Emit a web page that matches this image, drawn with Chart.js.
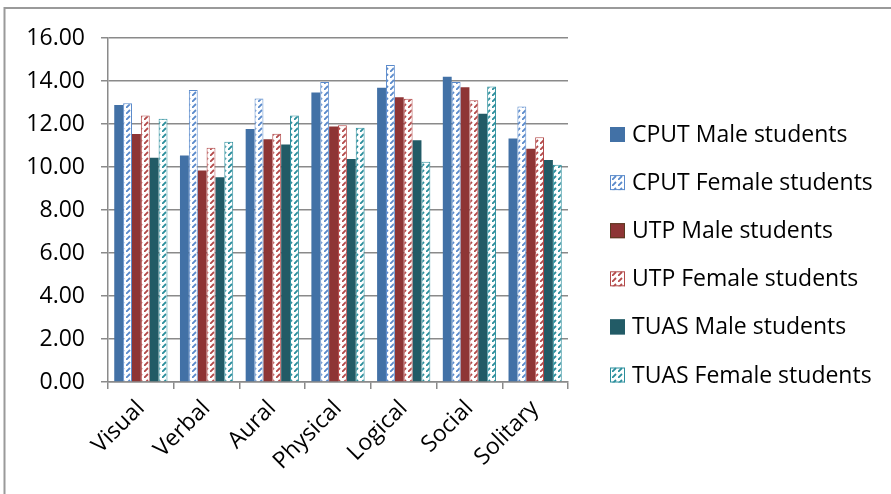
<!DOCTYPE html>
<html>
<head>
<meta charset="utf-8">
<script src="https://cdn.jsdelivr.net/npm/chart.js@4.4.1/dist/chart.umd.min.js"></script>
<style>
  html, body { margin: 0; padding: 0; background: #ffffff; }
  #wrap { width: 891px; height: 494px; position: relative; }
</style>
</head>
<body>
<div id="wrap"><canvas id="c" width="891" height="494"></canvas></div>
<script>
// Learning style scores by university and gender
const categories = ['Visual', 'Verbal', 'Aural', 'Physical', 'Logical', 'Social', 'Solitary'];
const seriesNames = ['CPUT Male students', 'CPUT Female students', 'UTP Male students',
                     'UTP Female students', 'TUAS Male students', 'TUAS Female students'];
const cputMale   = [12.88, 10.53, 11.77, 13.46, 13.69, 14.20, 11.33];
const cputFemale = [12.96, 13.58, 13.19, 13.95, 14.74, 13.95, 12.81];
const utpMale    = [11.53,  9.84, 11.29, 11.88, 13.24, 13.71, 10.85];
const utpFemale  = [12.40, 10.90, 11.55, 11.94, 13.18, 13.10, 11.38];
const tuasMale   = [10.43,  9.52, 11.05, 10.37, 11.24, 12.48, 10.33];
const tuasFemale = [12.25, 11.18, 12.40, 11.83, 10.25, 13.75, 10.11];
const yTicks = [0, 2, 4, 6, 8, 10, 12, 14, 16];

const FONT = '"Open Sans", Lato, sans-serif';

// Dashed upward-diagonal hatch on white
function hatch(color) {
  const t = document.createElement('canvas');
  t.width = 6; t.height = 6;
  const g = t.getContext('2d');
  g.fillStyle = '#ffffff';
  g.fillRect(0, 0, 6, 6);
  g.strokeStyle = color;
  g.lineWidth = 1.8;
  g.beginPath();
  g.moveTo(0, 6);
  g.lineTo(4, 2);
  g.stroke();
  return document.getElementById('c').getContext('2d').createPattern(t, 'repeat');
}

const solid = { cm: '#4271a6', um: '#8e3535', tm: '#225b66' };
const line  = { cf: '#5a8acb', uf: '#b34a4a', tf: '#2b8e9c' };

const datasets = [
  { label: seriesNames[0], data: cputMale,   backgroundColor: solid.cm, borderColor: solid.cm, borderWidth: 0 },
  { label: seriesNames[1], data: cputFemale, backgroundColor: hatch(line.cf), borderColor: line.cf, borderWidth: 1 },
  { label: seriesNames[2], data: utpMale,    backgroundColor: solid.um, borderColor: '#5a3a20', borderWidth: 0 },
  { label: seriesNames[3], data: utpFemale,  backgroundColor: hatch(line.uf), borderColor: line.uf, borderWidth: 1 },
  { label: seriesNames[4], data: tuasMale,   backgroundColor: solid.tm, borderColor: solid.tm, borderWidth: 0 },
  { label: seriesNames[5], data: tuasFemale, backgroundColor: hatch(line.tf), borderColor: line.tf, borderWidth: 1 }
];

// Outer chart frame (left and top edges)
const framePlugin = {
  id: 'frame',
  beforeDraw(chart) {
    const ctx = chart.ctx;
    ctx.save();
    ctx.strokeStyle = '#9a9a9a';
    ctx.lineWidth = 2;
    ctx.beginPath();
    ctx.moveTo(4.5, 494);
    ctx.lineTo(4.5, 8);
    ctx.lineTo(891, 8);
    ctx.stroke();
    ctx.restore();
  }
};

// Legend on the right with square swatches
const legendPlugin = {
  id: 'sideLegend',
  afterDraw(chart) {
    const ctx = chart.ctx;
    ctx.save();
    ctx.font = '23px ' + FONT;
    ctx.textBaseline = 'middle';
    ctx.textAlign = 'left';
    chart.data.datasets.forEach((ds, i) => {
      const cy = 134.5 + i * 48.1;
      const x = 610, s = 15;
      ctx.fillStyle = ds.backgroundColor;
      ctx.fillRect(x, cy - s / 2, s, s);
      ctx.strokeStyle = ds.borderWidth ? ds.borderColor : ds.backgroundColor;
      if (i === 2) ctx.strokeStyle = '#5a3a20';
      ctx.lineWidth = 1;
      ctx.strokeRect(x + 0.5, cy - s / 2 + 0.5, s - 1, s - 1);
      ctx.fillStyle = '#000000';
      ctx.fillText(ds.label, 632, cy + 1);
    });
    ctx.restore();
  }
};

new Chart(document.getElementById('c'), {
  type: 'bar',
  data: { labels: categories, datasets },
  options: {
    responsive: false,
    animation: false,
    layout: { padding: { top: 38, right: 323, left: 0, bottom: 0 } },
    datasets: { bar: { categoryPercentage: 0.81, barPercentage: 1.0 } },
    plugins: { legend: { display: false }, tooltip: { enabled: false } },
    scales: {
      x: {
        afterFit(scale) { scale.height = 112; },
        grid: { drawOnChartArea: false, drawTicks: true, tickLength: 7, color: '#8a8a8a', lineWidth: 1.5, offset: true },
        border: { display: true, color: '#8a8a8a', width: 1.5 },
        ticks: {
          autoSkip: false, minRotation: 45, maxRotation: 45, padding: 6,
          color: '#000000', font: { family: FONT, size: 23 }
        }
      },
      y: {
        min: 0, max: 16,
        afterFit(scale) { scale.width = 108; },
        afterBuildTicks(scale) { scale.ticks = yTicks.map(v => ({ value: v })); },
        grid: { color: '#8a8a8a', lineWidth: 1.5, tickLength: 7 },
        border: { display: true, color: '#8a8a8a', width: 1.5 },
        ticks: {
          padding: 16, color: '#000000', font: { family: FONT, size: 23 },
          callback: v => Number(v).toFixed(2)
        }
      }
    }
  },
  plugins: [framePlugin, legendPlugin]
});
</script>
</body>
</html>
